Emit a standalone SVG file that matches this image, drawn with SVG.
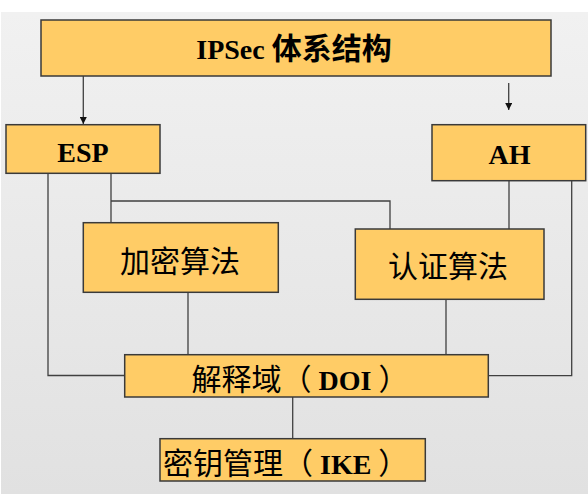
<svg xmlns="http://www.w3.org/2000/svg" width="588" height="494" viewBox="0 0 588 494">
<style>
.box{fill:#FFCC66;stroke:#3a3a3a;stroke-width:1.5}
.con{fill:none;stroke:#404040;stroke-width:1.3}
.lat{font-family:"Liberation Serif","Noto Sans CJK SC",serif;font-weight:bold;font-size:28px;fill:#000}
.cjk{font-family:"Noto Sans CJK SC",sans-serif;font-size:30px;font-weight:normal;fill:#000}
.cjkb{font-family:"Noto Sans CJK SC",sans-serif;font-size:30px;font-weight:bold;fill:#000}
</style>
<defs>
<linearGradient id="bg" x1="0" y1="0" x2="0" y2="1">
<stop offset="0" stop-color="#f1f1f1"/>
<stop offset="1" stop-color="#e1e1e1"/>
</linearGradient>
<marker id="ah" viewBox="0 0 10 10" refX="10" refY="5" markerWidth="7" markerHeight="7" markerUnits="userSpaceOnUse" orient="auto">
<path d="M0,0 L10,5 L0,10 z" fill="#111"/>
</marker>
</defs>
<rect x="0" y="0" width="588" height="494" fill="#ffffff"/>
<rect x="1" y="12" width="587" height="482" fill="url(#bg)"/>
<g id="connectors">
<path class="con" d="M83.3 76 V124" marker-end="url(#ah)"/>
<path class="con" d="M508.7 83 V110" marker-end="url(#ah)"/>
<path class="con" d="M48 173.3 V375.5 H124.7"/>
<path class="con" d="M111 173.3 V222.7"/>
<path class="con" d="M111 201 H390 V229"/>
<path class="con" d="M188 292.3 V354.7"/>
<path class="con" d="M446 299.3 V354.7"/>
<path class="con" d="M509 180.7 V229"/>
<path class="con" d="M571.7 180.7 V375.7 H488.3"/>
<path class="con" d="M292.7 397 V438.7"/>
</g>
<g id="ipsec">
<rect class="box" x="41" y="20" width="510" height="56"/>
<text class="lat" x="294" y="59" text-anchor="middle">IPSec <tspan class="cjkb">体系结构</tspan></text>
</g>
<g id="esp">
<rect class="box" x="6" y="124.7" width="154" height="48.6"/>
<text class="lat" x="83" y="162" text-anchor="middle">ESP</text>
</g>
<g id="ah-node">
<rect class="box" x="432" y="124.7" width="153.7" height="56"/>
<text class="lat" x="509.5" y="164" text-anchor="middle">AH</text>
</g>
<g id="encryption">
<rect class="box" x="83.3" y="222.7" width="195" height="69.6"/>
<text class="cjk" x="180" y="272" text-anchor="middle">加密算法</text>
</g>
<g id="authentication">
<rect class="box" x="355.3" y="229" width="188.7" height="70.3"/>
<text class="cjk" x="448" y="277" text-anchor="middle">认证算法</text>
</g>
<g id="doi">
<rect class="box" x="124.7" y="354.7" width="363.6" height="42.3"/>
<text class="lat" x="191.5" y="390"><tspan class="cjk">解释域（</tspan> DOI <tspan class="cjk">）</tspan></text>
</g>
<g id="ike">
<rect class="box" x="160" y="438.7" width="265.3" height="42.3"/>
<text class="lat" x="163" y="474"><tspan class="cjk">密钥管理（</tspan> IKE <tspan class="cjk">）</tspan></text>
</g>
</svg>
